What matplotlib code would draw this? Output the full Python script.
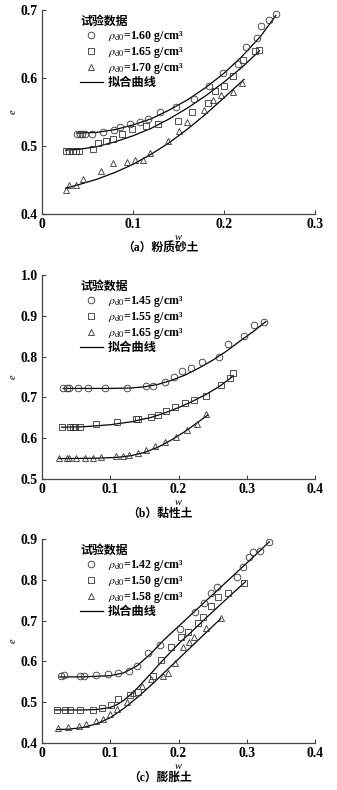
import matplotlib
matplotlib.use("Agg")
import matplotlib.pyplot as plt
from matplotlib.lines import Line2D

plt.rcParams['font.family'] = ['Liberation Serif', 'Noto Sans CJK SC', 'DejaVu Sans']
plt.rcParams['mathtext.fontset'] = 'stix'

# ---- panel (a) silty sand ----
a_labels = ['1.60', '1.65', '1.70']
a1_w = [0.039, 0.042, 0.044, 0.047, 0.055, 0.067, 0.079, 0.086, 0.097, 0.108, 0.117,
        0.130, 0.147, 0.167, 0.183, 0.199, 0.215, 0.224, 0.236, 0.241, 0.249, 0.257]
a1_e = [0.518, 0.518, 0.518, 0.518, 0.518, 0.520, 0.524, 0.528, 0.533, 0.535, 0.540,
        0.550, 0.558, 0.569, 0.588, 0.608, 0.621, 0.646, 0.659, 0.676, 0.685, 0.694]
a2_w = [0.026, 0.030, 0.034, 0.037, 0.041, 0.056, 0.062, 0.070, 0.078, 0.088, 0.099,
        0.114, 0.127, 0.149, 0.165, 0.182, 0.190, 0.200, 0.210, 0.221, 0.234, 0.239]
a2_e = [0.492, 0.492, 0.492, 0.492, 0.492, 0.495, 0.505, 0.508, 0.511, 0.517, 0.525,
        0.529, 0.532, 0.537, 0.550, 0.563, 0.581, 0.588, 0.603, 0.626, 0.639, 0.641]
a3_w = [0.026, 0.030, 0.037, 0.045, 0.0645, 0.078, 0.093, 0.102, 0.111, 0.119, 0.139,
        0.150, 0.159, 0.178, 0.188, 0.197, 0.2095, 0.220]
a3_e = [0.436, 0.443, 0.443, 0.451, 0.463, 0.475, 0.477, 0.479, 0.479, 0.489, 0.507,
        0.522, 0.536, 0.553, 0.567, 0.575, 0.580, 0.593]
a1_fit_w = [0.038, 0.06, 0.08, 0.10, 0.12, 0.14, 0.16, 0.18, 0.20, 0.22, 0.24, 0.257]
a1_fit_e = [0.519, 0.520, 0.524, 0.531, 0.540, 0.553, 0.568, 0.586, 0.607, 0.632, 0.661, 0.692]
a2_fit_w = [0.026, 0.04, 0.06, 0.08, 0.10, 0.12, 0.14, 0.16, 0.18, 0.20, 0.22, 0.239]
a2_fit_e = [0.494, 0.495, 0.499, 0.506, 0.515, 0.526, 0.540, 0.556, 0.574, 0.594, 0.616, 0.640]
a3_fit_w = [0.026, 0.04, 0.06, 0.08, 0.10, 0.12, 0.14, 0.16, 0.18, 0.20, 0.222]
a3_fit_e = [0.438, 0.443, 0.451, 0.461, 0.473, 0.488, 0.505, 0.525, 0.547, 0.571, 0.598]

# ---- panel (b) clay ----
b_labels = ['1.45', '1.55', '1.65']
b1_w = [0.031, 0.036, 0.040, 0.053, 0.068, 0.092, 0.124, 0.153, 0.162, 0.180, 0.193,
        0.205, 0.219, 0.235, 0.259, 0.2725, 0.296, 0.310, 0.325]
b1_e = [0.722, 0.722, 0.722, 0.722, 0.722, 0.722, 0.723, 0.727, 0.729, 0.737, 0.749,
        0.765, 0.771, 0.786, 0.799, 0.832, 0.851, 0.877, 0.884]
b2_w = [0.029, 0.041, 0.045, 0.049, 0.055, 0.079, 0.110, 0.138, 0.141, 0.159, 0.170,
        0.182, 0.195, 0.2095, 0.223, 0.241, 0.262, 0.2755, 0.280]
b2_e = [0.627, 0.627, 0.627, 0.627, 0.627, 0.634, 0.640, 0.646, 0.648, 0.651, 0.656,
        0.667, 0.677, 0.686, 0.694, 0.704, 0.730, 0.748, 0.761]
b3_w = [0.025, 0.037, 0.040, 0.050, 0.063, 0.074, 0.086, 0.108, 0.119, 0.128, 0.140,
        0.152, 0.166, 0.180, 0.196, 0.212, 0.227, 0.241]
b3_e = [0.552, 0.552, 0.552, 0.552, 0.552, 0.552, 0.555, 0.556, 0.556, 0.559, 0.564,
        0.571, 0.581, 0.591, 0.604, 0.620, 0.636, 0.659]
b1_fit_w = [0.031, 0.06, 0.10, 0.13, 0.15, 0.17, 0.19, 0.21, 0.23, 0.25, 0.27, 0.29, 0.31, 0.328]
b1_fit_e = [0.722, 0.722, 0.722, 0.723, 0.726, 0.732, 0.742, 0.755, 0.772, 0.791, 0.813, 0.838, 0.862, 0.886]
b2_fit_w = [0.029, 0.06, 0.10, 0.13, 0.16, 0.18, 0.20, 0.22, 0.24, 0.26, 0.28]
b2_fit_e = [0.627, 0.628, 0.633, 0.640, 0.651, 0.662, 0.675, 0.690, 0.707, 0.727, 0.752]
b3_fit_w = [0.025, 0.08, 0.11, 0.13, 0.15, 0.17, 0.19, 0.21, 0.23, 0.243]
b3_fit_e = [0.550, 0.551, 0.553, 0.557, 0.565, 0.578, 0.596, 0.617, 0.641, 0.657]

# ---- panel (c) expansive soil ----
c_labels = ['1.42', '1.50', '1.58']
c1_w = [0.028, 0.032, 0.055, 0.062, 0.079, 0.096, 0.112, 0.127, 0.139, 0.156, 0.173,
        0.202, 0.224, 0.237, 0.247, 0.256, 0.286, 0.295, 0.304, 0.309, 0.319, 0.333]
c1_e = [0.563, 0.566, 0.564, 0.565, 0.566, 0.568, 0.572, 0.576, 0.589, 0.621, 0.641,
        0.679, 0.722, 0.744, 0.767, 0.783, 0.806, 0.831, 0.857, 0.867, 0.871, 0.893]
c2_w = [0.0215, 0.033, 0.041, 0.056, 0.075, 0.0875, 0.101, 0.112, 0.129, 0.140, 0.162,
        0.175, 0.1885, 0.203, 0.214, 0.229, 0.236, 0.247, 0.258, 0.273, 0.296]
c2_e = [0.481, 0.481, 0.482, 0.482, 0.481, 0.486, 0.493, 0.508, 0.518, 0.525, 0.563,
        0.603, 0.635, 0.659, 0.673, 0.693, 0.708, 0.736, 0.759, 0.767, 0.793]
c3_w = [0.024, 0.0385, 0.054, 0.064, 0.079, 0.090, 0.0996, 0.110, 0.124, 0.134, 0.147,
        0.160, 0.177, 0.184, 0.195, 0.206, 0.216, 0.223, 0.241, 0.262]
c3_e = [0.436, 0.440, 0.442, 0.447, 0.454, 0.458, 0.470, 0.483, 0.501, 0.522, 0.540,
        0.556, 0.565, 0.572, 0.597, 0.635, 0.648, 0.661, 0.681, 0.706]
c1_fit_w = [0.026, 0.06, 0.10, 0.12, 0.14, 0.16, 0.18, 0.20, 0.22, 0.24, 0.26, 0.28, 0.30, 0.333]
c1_fit_e = [0.562, 0.562, 0.565, 0.572, 0.590, 0.620, 0.655, 0.686, 0.717, 0.748, 0.779, 0.810, 0.841, 0.893]
c2_fit_w = [0.020, 0.06, 0.08, 0.10, 0.11, 0.12, 0.13, 0.14, 0.15, 0.16, 0.17, 0.18,
            0.20, 0.22, 0.24, 0.26, 0.28, 0.298]
c2_fit_e = [0.481, 0.481, 0.482, 0.487, 0.494, 0.505, 0.519, 0.535, 0.553, 0.571, 0.590, 0.608,
            0.643, 0.674, 0.706, 0.737, 0.768, 0.795]
c3_fit_w = [0.022, 0.04, 0.06, 0.08, 0.10, 0.12, 0.14, 0.16, 0.18, 0.20, 0.22, 0.24, 0.262]
c3_fit_e = [0.433, 0.434, 0.438, 0.447, 0.462, 0.485, 0.512, 0.542, 0.574, 0.606, 0.638, 0.670, 0.705]

a_xticks = ['0', '0.1', '0.2', '0.3']
a_yticks = ['0.4', '0.5', '0.6', '0.7']
b_xticks = ['0', '0.1', '0.2', '0.3', '0.4']
b_yticks = ['0.5', '0.6', '0.7', '0.8', '0.9', '1.0']
c_xticks = ['0', '0.1', '0.2', '0.3', '0.4']
c_yticks = ['0.4', '0.5', '0.6', '0.7', '0.8', '0.9']

captions = ['（a）粉质砂土', '（b）黏性土', '（c）膨胀土']

panels = [
    (a_labels, [(a1_w, a1_e), (a2_w, a2_e), (a3_w, a3_e)],
     [(a1_fit_w, a1_fit_e), (a2_fit_w, a2_fit_e), (a3_fit_w, a3_fit_e)], a_xticks, a_yticks),
    (b_labels, [(b1_w, b1_e), (b2_w, b2_e), (b3_w, b3_e)],
     [(b1_fit_w, b1_fit_e), (b2_fit_w, b2_fit_e), (b3_fit_w, b3_fit_e)], b_xticks, b_yticks),
    (c_labels, [(c1_w, c1_e), (c2_w, c2_e), (c3_w, c3_e)],
     [(c1_fit_w, c1_fit_e), (c2_fit_w, c2_fit_e), (c3_fit_w, c3_fit_e)], c_xticks, c_yticks),
]

W, H = 337, 790
fig = plt.figure(figsize=(W / 100, H / 100), dpi=100)

# pixel boxes of the three plot areas: (top, bottom)
boxes = [(10, 214), (275, 479), (539, 743)]
left_px, right_px = 42, 315
markers = ['o', 's', '^']
msizes = [4.8, 4.5, 5.0]
mcol = '#333333'

for i, (labels, pts, fits, xt, yt) in enumerate(panels):
    top, bot = boxes[i]
    ax = fig.add_axes([left_px / W, 1 - bot / H, (right_px - left_px) / W, (bot - top) / H])
    for k in range(3):
        ax.plot(fits[k][0], fits[k][1], color='black', lw=0.9, zorder=2)
        ax.plot(pts[k][0], pts[k][1], ls='none', marker=markers[k], ms=msizes[k],
                mfc='none', mec=mcol, mew=0.6, zorder=3)

    xvals = [float(v) for v in xt]
    yvals = [float(v) for v in yt]
    ax.set_xlim(xvals[0], xvals[-1])
    ax.set_ylim(yvals[0], yvals[-1])
    ax.set_xticks(xvals)
    ax.set_xticklabels(xt)
    ax.set_yticks(yvals)
    ax.set_yticklabels(yt)
    for s in ['top', 'right']:
        ax.spines[s].set_visible(False)
    for s in ['left', 'bottom']:
        ax.spines[s].set_color('#444444')
        ax.spines[s].set_linewidth(0.9)
    ax.tick_params(direction='in', length=3, width=0.8, color='#444444', pad=3)
    for t in ax.get_xticklabels() + ax.get_yticklabels():
        t.set_fontweight('bold')
        t.set_fontsize(9.8)

    ax.set_xlabel('w', fontstyle='italic', fontsize=7.5, labelpad=1)
    ax.set_ylabel('e', fontstyle='italic', fontsize=7.5, labelpad=2)

    handles = [Line2D([], [], ls='none', marker=markers[k], ms=msizes[k], mfc='none',
                      mec=mcol, mew=0.6) for k in range(3)]
    handles.append(Line2D([], [], color='black', lw=0.9))
    texts = [r'$\rho_{\mathrm{d0}}$=' + lab + ' g/cm³' for lab in labels] + ['拟合曲线']
    leg = ax.legend(handles, texts, loc='upper left', bbox_to_anchor=(0.135, 0.975),
                    frameon=False, title='试验数据', alignment='left',
                    prop={'size': 8.6, 'weight': 'bold'}, handlelength=1.9,
                    handletextpad=0.4, labelspacing=0.08, borderpad=0.1,
                    borderaxespad=0)
    leg.get_title().set_fontsize(8.6)
    leg.get_title().set_fontweight('bold')
    leg.get_texts()[-1].set_fontsize(8.8)

    fig.text(160 / W, 1 - (bot + 35) / H, captions[i], ha='center', va='center',
             fontsize=8.5, fontweight='bold')

fig.savefig('out.png', dpi=100)
